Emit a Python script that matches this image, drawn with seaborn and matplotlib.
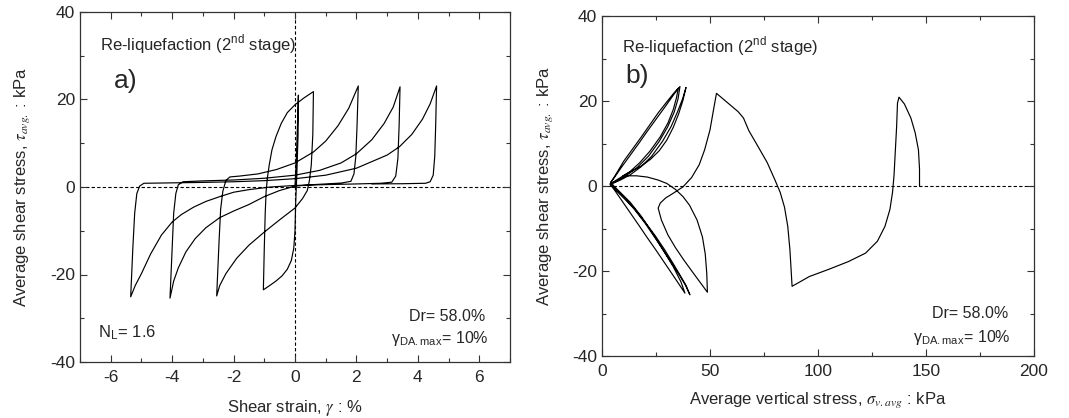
import matplotlib
matplotlib.use("Agg")
import pandas as pd
import seaborn as sns
import matplotlib.pyplot as plt
from matplotlib.ticker import MultipleLocator, AutoMinorLocator

# ---- panel a): shear strain (%) vs average shear stress (kPa), in time order
strain = [
    0.0, 0.04, 0.08, 0.11,
    0.1, 0.06, 0.02, 0.0, -0.04, -0.12, -0.25, -0.42, -0.62, -0.82, -1.03,
    -1.0, -0.97, -0.94, -0.9, -0.84, -0.75, -0.62, -0.45, -0.25, 0.0, 0.3, 0.6,
    0.58, 0.53, 0.47, 0.4, 0.25, 0.0, -0.5, -1.0, -1.5, -1.9, -2.25, -2.45, -2.55,
    -2.47, -2.42, -2.35, -2.25, -2.12, -1.8, -1.2, -0.6, 0.0, 0.6, 1.0, 1.4, 1.75, 2.06,
    2.02, 1.98, 1.92, 1.82, 1.5, 1.0, 0.5, 0.0, -0.5, -1.0, -1.5, -2.0, -2.45, -2.9,
    -3.25, -3.55, -3.8, -3.95, -4.07,
    -4.0, -3.95, -3.88, -3.8, -3.65, -3.0, -2.0, -1.0, 0.0, 0.8, 1.5, 2.0, 2.5, 2.9,
    3.2, 3.42,
    3.39, 3.35, 3.28, 3.15, 2.8, 2.0, 1.0, 0.0, -0.8, -1.5, -2.0, -2.45, -2.9, -3.3,
    -3.7, -4.0, -4.35, -4.7, -5.0, -5.2, -5.35,
    -5.28, -5.22, -5.15, -5.06, -4.92, -4.0, -3.0, -2.0, -1.0, 0.0, 1.0, 2.0, 2.5,
    3.0, 3.4, 3.8, 4.15, 4.4, 4.61,
    4.58, 4.55, 4.5, 4.4, 4.25, 3.5, 2.5,
]
tau_a = [
    0.0, 6, 14, 21,
    12, 3, -4, -10, -14, -16.8, -18.8, -20.3, -21.5, -22.5, -23.5,
    -14, -6, -1, 2, 5, 8.5, 11.5, 14.5, 17, 18.8, 20.4, 21.8,
    12, 5, 1.5, -0.8, -2.6, -4.8, -7.5, -10.3, -13.3, -16.3, -19.8, -22.5, -24.9,
    -12, -5, -1, 1.5, 2.3, 2.5, 3.0, 4.0, 5.5, 8.0, 10.5, 14.0, 18.0, 23.1,
    14, 7, 3, 1.3, 0.9, 0.7, 0.5, 0.2, -0.8, -2.2, -4.0, -5.5, -7.0, -9.3,
    -11.8, -14.8, -18.5, -21.5, -25.4,
    -14, -6, -1.5, 0.5, 1.2, 1.4, 1.6, 2.0, 2.7, 3.8, 5.5, 7.6, 10.8, 14.5,
    18.3, 22.9,
    14, 6.5, 2.5, 1.1, 0.85, 0.7, 0.55, 0.35, 0.0, -0.6, -1.2, -2.2, -3.3, -4.6,
    -6.3, -8.0, -11.0, -15.3, -19.8, -22.5, -25.1,
    -14, -6, -1.5, 0.2, 0.85, 0.95, 1.05, 1.2, 1.45, 1.9, 2.7, 4.3, 5.8,
    7.3, 9.2, 12.0, 15.5, 19.0, 23.1,
    14, 7, 2.7, 1.2, 0.85, 0.75, 0.7,
]

# ---- panel b): average vertical stress (kPa) vs average shear stress (kPa)
sigma_v = [
    147, 147, 146.5, 145, 143, 140, 137.5,
    136.8, 136.4, 135.8, 135.2, 134.5, 133.3, 131, 127.5, 122, 114, 105, 96, 88,
    87.6, 87, 86, 84.5, 82.5, 80, 76.5, 72, 68, 65.5, 63, 59.5, 53,
    52, 50, 47.5, 45, 41.5, 37.5, 33, 29.5, 27, 26,
    27.5, 30.5, 34, 38, 42, 45.5, 48.8,
    48.5, 47.8, 46.5, 44, 40.5, 37.5, 34, 30, 26, 21, 16, 12, 9.5,
    14, 18.5, 22.5, 26.5, 30, 33, 35.5, 37.5, 38.9,
    37.3, 35, 32, 28, 23, 18, 13, 8.5, 5, 3.8,
    6, 9, 13, 17, 21, 25, 29, 33, 36, 38.4,
    36.5, 33, 28, 23, 18, 13, 8.5, 5.5, 4,
    6, 9, 13, 17, 21, 25, 29, 32.5, 35.3,
    34.5, 33, 30.5, 27, 22.2, 17.5, 13, 8.3, 4.8, 3.7,
    6, 9, 14.5, 19.5, 24.5, 29, 33, 36.5, 39, 40.7,
    38.5, 35, 30, 25, 20, 15, 10, 6, 4,
    6.5, 10, 14, 18, 22, 26, 30, 33.5, 36.1,
    35.2, 33.5, 30.5, 26.5, 21.5, 16, 11, 7, 4,
]
tau_b = [
    0, 4, 8.5, 12.5, 16, 19.3, 20.9,
    19.5, 14, 8, 2.5, -1.5, -5.5, -9.5, -13, -15.8, -17.8, -19.6, -21.3, -23.6,
    -20, -15, -9.5, -5, -1.5, 1.5, 5.5, 9.5, 13, 16, 17.5, 19, 21.8,
    19, 13.2, 8.5, 5, 2, -0.2, -1.7, -2.8, -4, -5.2,
    -8, -11.5, -14.5, -17.5, -20.3, -22.7, -25,
    -20.5, -16, -12, -8, -4.5, -2.5, -0.8, 0.6, 1.4, 2.1, 2.4, 2.4, 2.3,
    3.6, 4.8, 6.3, 8.3, 10.8, 13.8, 17, 20.2, 23.2,
    20.5, 17.5, 14, 10.5, 7, 4.5, 2.6, 1.4, 0.6, 0.4,
    -1.1, -3.3, -6.2, -9.2, -12.2, -15.1, -18.1, -21.1, -23.4, -25.2,
    -22.5, -19, -14.8, -10.8, -7, -3.8, -1.5, 0, 0.9,
    2.2, 4.4, 7.2, 10, 12.9, 15.7, 18.5, 21, 23,
    20.8, 18, 14.8, 11.6, 8.2, 5.5, 3.4, 1.9, 0.8, 0.5,
    -0.8, -2.3, -5, -8.2, -11.6, -15, -18.3, -21.3, -23.5, -25.6,
    -23.2, -20.3, -16.4, -12.5, -8.8, -5.5, -2.6, -0.4, 0.7,
    2.8, 5.8, 8.6, 11.4, 14.3, 17.2, 19.8, 22, 23.4,
    20.5, 17.5, 14, 10.5, 7, 4.2, 2.4, 1.2, 0.6,
]

df_a = pd.DataFrame({"strain": strain, "tau": tau_a})
df_b = pd.DataFrame({"sigma": sigma_v, "tau": tau_b})

sns.set_style("ticks")
plt.rcParams["font.family"] = ["Liberation Sans", "DejaVu Sans"]
plt.rcParams["mathtext.fontset"] = "stix"
plt.rcParams["axes.unicode_minus"] = False
plt.rcParams["font.size"] = 12

fig = plt.figure(figsize=(10.69, 4.18), dpi=100)
ax1 = fig.add_axes([80 / 1069, 56 / 418, 430 / 1069, 350 / 418])
ax2 = fig.add_axes([602 / 1069, 62 / 418, 432 / 1069, 340 / 418])

sns.lineplot(data=df_a, x="strain", y="tau", sort=False, estimator=None,
             color="black", lw=0.85, ax=ax1)
sns.lineplot(data=df_b, x="sigma", y="tau", sort=False, estimator=None,
             color="black", lw=0.85, ax=ax2)

ax1.axhline(0, color="black", ls=(0, (3, 2)), lw=0.8, zorder=0)
ax1.axvline(0, color="black", ls=(0, (3, 2)), lw=0.8, zorder=0)
ax2.axhline(0, color="black", ls=(0, (3, 2)), lw=0.8, zorder=0)

ax1.set_xlim(-7, 7)
ax1.set_ylim(-40, 40)
ax1.xaxis.set_major_locator(MultipleLocator(2))
ax1.yaxis.set_major_locator(MultipleLocator(20))
ax2.set_xlim(0, 200)
ax2.set_ylim(-40, 40)
ax2.xaxis.set_major_locator(MultipleLocator(50))
ax2.yaxis.set_major_locator(MultipleLocator(20))

for ax in (ax1, ax2):
    ax.xaxis.set_minor_locator(AutoMinorLocator(2))
    ax.yaxis.set_minor_locator(AutoMinorLocator(2))
    ax.tick_params(which="both", direction="in", top=True, right=True,
                   labelsize=12.5, width=0.8, color="#333333")
    ax.tick_params(which="major", length=5)
    ax.tick_params(which="minor", length=3)
    ax.tick_params(axis="x", which="major", pad=6)
    for s in ax.spines.values():
        s.set_linewidth(0.9)
        s.set_color("#333333")

ax1.set_xlabel(r"Shear strain, $\gamma$ : %", fontsize=12, labelpad=9)
ax1.set_ylabel(r"Average shear stress, $\tau_{avg.}$ : kPa", fontsize=12, labelpad=13)
ax2.set_xlabel(r"Average vertical stress, $\sigma_{v.avg}$ : kPa", fontsize=12, labelpad=8)
ax2.set_ylabel(r"Average shear stress, $\tau_{avg.}$ : kPa", fontsize=12, labelpad=12)

ax1.text(-6.35, 32.5, r"Re-liquefaction (2$^{\mathregular{nd}}$ stage)", fontsize=12, va="center")
ax1.text(-5.9, 24.2, "a)", fontsize=19, va="center")
ax1.text(-6.4, -33.3, r"N$_{\mathregular{L}}$= 1.6", fontsize=12, va="center")
ax1.text(6.2, -29.5, "Dr= 58.0%", fontsize=11.5, ha="right", va="center")
ax1.text(6.3, -34.6, r"γ$_{\mathregular{DA.max}}$= 10%", fontsize=11.5, ha="right", va="center")

ax2.text(9.3, 32.8, r"Re-liquefaction (2$^{\mathregular{nd}}$ stage)", fontsize=12, va="center")
ax2.text(11, 26, "b)", fontsize=19, va="center")
ax2.text(188, -30, "Dr= 58.0%", fontsize=11.5, ha="right", va="center")
ax2.text(189, -35.6, r"γ$_{\mathregular{DA.max}}$= 10%", fontsize=11.5, ha="right", va="center")

fig.savefig("out.png", dpi=100)
